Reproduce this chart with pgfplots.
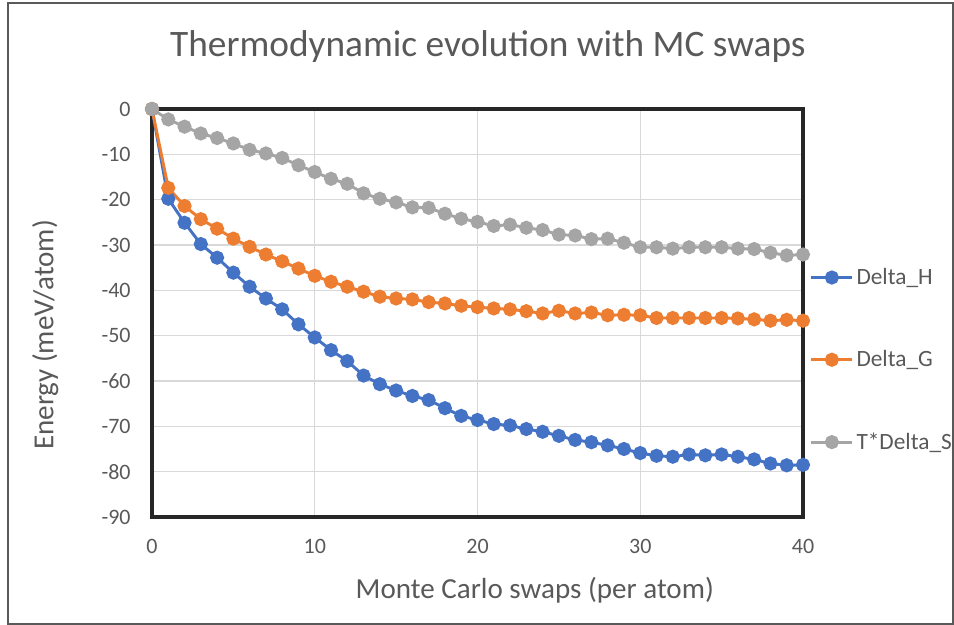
\documentclass[border=0pt]{standalone}
\usepackage{fontspec}
\setmainfont{Carlito}
\usepackage{pgfplots}
\pgfplotsset{compat=1.18}
\usepackage{pgfplotstable}
\definecolor{cH}{HTML}{4472C4}
\definecolor{cG}{HTML}{ED7D31}
\definecolor{cS}{HTML}{A5A5A5}
\definecolor{txt}{HTML}{595959}
\definecolor{gridc}{HTML}{D9D9D9}
\pgfplotstableread{
x H G S
0 0 0 0
1 -19.8 -17.4 -2.3
2 -25.1 -21.4 -3.9
3 -29.8 -24.3 -5.4
4 -32.8 -26.4 -6.4
5 -36.1 -28.6 -7.6
6 -39.2 -30.4 -9.0
7 -41.8 -32.1 -9.8
8 -44.2 -33.6 -10.8
9 -47.5 -35.2 -12.4
10 -50.4 -36.8 -13.9
11 -53.2 -38.1 -15.4
12 -55.6 -39.2 -16.5
13 -58.8 -40.3 -18.6
14 -60.7 -41.4 -19.8
15 -62.1 -41.8 -20.6
16 -63.3 -42.0 -21.7
17 -64.2 -42.6 -21.8
18 -66.0 -42.9 -23.1
19 -67.7 -43.4 -24.2
20 -68.6 -43.7 -24.9
21 -69.5 -44.0 -25.8
22 -69.8 -44.2 -25.5
23 -70.6 -44.6 -26.2
24 -71.2 -45.1 -26.7
25 -72.1 -44.5 -27.7
26 -73.0 -45.1 -27.9
27 -73.5 -44.9 -28.7
28 -74.2 -45.5 -28.6
29 -75.0 -45.4 -29.5
30 -75.9 -45.5 -30.5
31 -76.5 -46.1 -30.5
32 -76.7 -46.1 -30.8
33 -76.2 -46.1 -30.5
34 -76.4 -46.1 -30.5
35 -76.2 -46.1 -30.5
36 -76.7 -46.2 -30.8
37 -77.3 -46.4 -30.9
38 -78.2 -46.7 -31.7
39 -78.6 -46.5 -32.3
40 -78.5 -46.7 -32.1
}\datatable
\begin{document}
\begin{tikzpicture}[x=0.75pt,y=0.75pt]
\path[use as bounding box] (0,0) rectangle (954,625);
\draw[color=black!65, line width=0.9pt] (8,1) rectangle (953,622);
\begin{axis}[
  at={(114pt,81pt)}, anchor=south west,
  scale only axis, width=488.25pt, height=306pt,
  xmin=0, xmax=40, ymin=-90, ymax=0,
  xtick={0,10,20,30,40}, ytick={-90,-80,...,0},
  grid=major, major grid style={color=gridc, line width=0.9pt},
  axis line style={draw=none},
  tick style={draw=none},
  /pgf/number format/assume math mode=true,
  ticklabel style={font=\fontsize{16.5}{19}\selectfont, text=txt},
  xticklabel style={yshift=-13pt},
  yticklabel style={xshift=-12.5pt},
  title={Thermodynamic evolution with MC swaps},
  title style={font=\fontsize{28}{33}\selectfont, text=txt, at={(axis description cs:0.516,1.133)}, anchor=center},
  xlabel={Monte Carlo swaps (per atom)},
  xlabel style={font=\fontsize{21.8}{26}\selectfont, text=txt, at={(axis description cs:0.588,-0.179)}, anchor=center},
  ylabel={Energy (meV/atom)},
  ylabel style={font=\fontsize{21.8}{26}\selectfont, text=txt, at={(axis description cs:-0.164,0.446)}, anchor=center, rotate=0},
  clip=false,
  every axis plot/.append style={line width=2.2pt, mark=*, mark size=4.2pt},
  legend style={at={(axis description cs:1.0,0.385)}, anchor=west, xshift=3pt, draw=none, fill=none,
    font=\fontsize{17.5}{20}\selectfont, text=txt, row sep=44pt, inner sep=2pt},
  legend cell align=left,
  legend image code/.code={\draw[mark repeat=2,mark phase=2] plot coordinates {(0cm,0cm) (0.54cm,0cm) (1.08cm,0cm)};},
]
\draw[color=black!85, line width=2.6pt] (rel axis cs:0,0) rectangle (rel axis cs:1,1);
\addplot[color=cH, mark options={fill=cH, draw=cH}] table[x=x,y=H] {\datatable};
\addlegendentry{Delta\_H}
\addplot[color=cG, mark options={fill=cG, draw=cG}] table[x=x,y=G] {\datatable};
\addlegendentry{Delta\_G}
\addplot[color=cS, mark options={fill=cS, draw=cS}] table[x=x,y=S] {\datatable};
\addlegendentry{T*Delta\_S}
\end{axis}
\end{tikzpicture}
\end{document}
